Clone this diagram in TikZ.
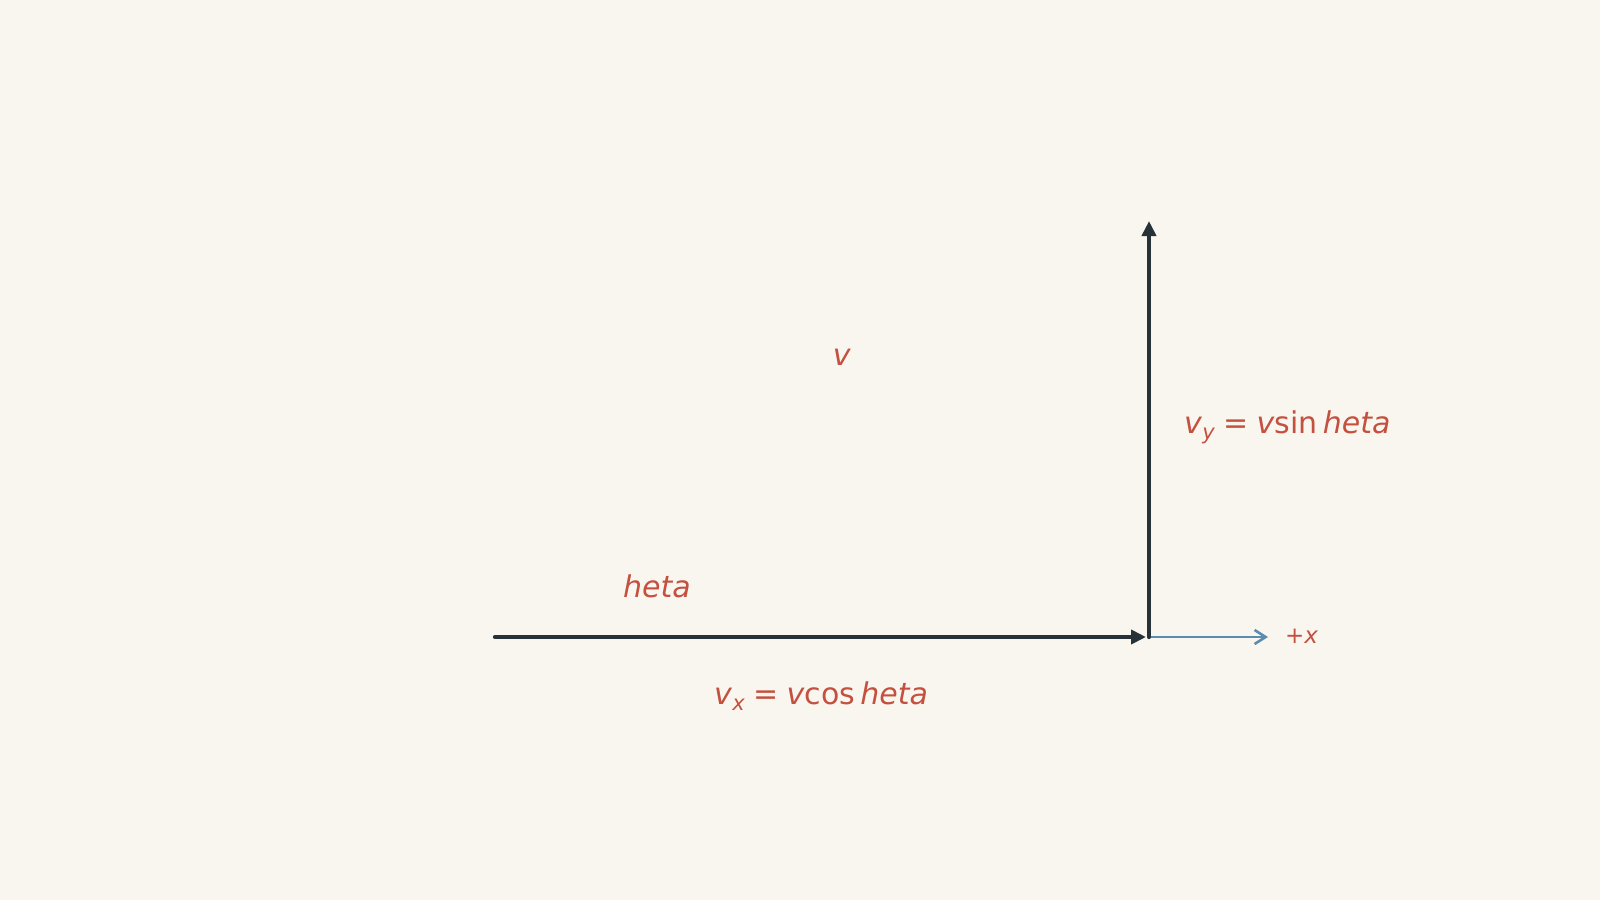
\documentclass[tikz,border=0pt]{standalone}
\usepackage{fontspec}
\setmainfont{DejaVu Sans}
\usetikzlibrary{arrows.meta}
\definecolor{bgc}{HTML}{F9F6F0}
\definecolor{darkc}{HTML}{263238}
\definecolor{redc}{HTML}{C4513F}
\definecolor{bluec}{HTML}{5B8DB0}
\newcommand{\vv}{\textit{v}}
\newcommand{\subsc}[1]{\raisebox{-0.22em}{\fontsize{21}{21}\selectfont\itshape #1}}
\begin{document}
\begin{tikzpicture}[x=1pt,y=-1pt,
  vec/.style={draw=darkc,line width=4.3pt,line cap=round,-{Triangle[length=15pt,width=14pt]}},
  axisarrow/.style={draw=bluec,line width=2.6pt,-{Straight Barb[length=11pt,width=14pt,line width=2.6pt]}},
  lbl/.style={text=redc,inner sep=0pt,font=\fontsize{30}{36}\selectfont},
  smalllbl/.style={text=redc,inner sep=0pt,font=\fontsize{23}{28}\selectfont}]
  \fill[bgc] (0,0) rectangle (1600,900);
  \useasboundingbox (0,0) rectangle (1600,900);
  \coordinate (origin) at (1149,637);
  \coordinate (start) at (495,637);
  \coordinate (top) at (1149,221);
  \coordinate (xend) at (1268,637);
  \draw[axisarrow] (origin) -- (xend);
  \draw[vec,shorten >=3pt] (start) -- (origin);
  \draw[vec] (origin) -- (top);
  \node[lbl,anchor=base] (vlabel) at (842,365) {\vv};
  \node[lbl,anchor=base west] (vylabel) at (1184,433) {\vv\subsc{y}\hspace{0.28em}=\hspace{0.28em}\vv sin\,\textit{heta}};
  \node[lbl,anchor=base] (thetalabel) at (657,597) {\textit{heta}};
  \node[lbl,anchor=base west] (vxlabel) at (714,704) {\vv\subsc{x}\hspace{0.28em}=\hspace{0.28em}\vv cos\,\textit{heta}};
  \node[smalllbl,anchor=base west] (xlabel) at (1285,643) {+\textit{x}};
\end{tikzpicture}
\end{document}
